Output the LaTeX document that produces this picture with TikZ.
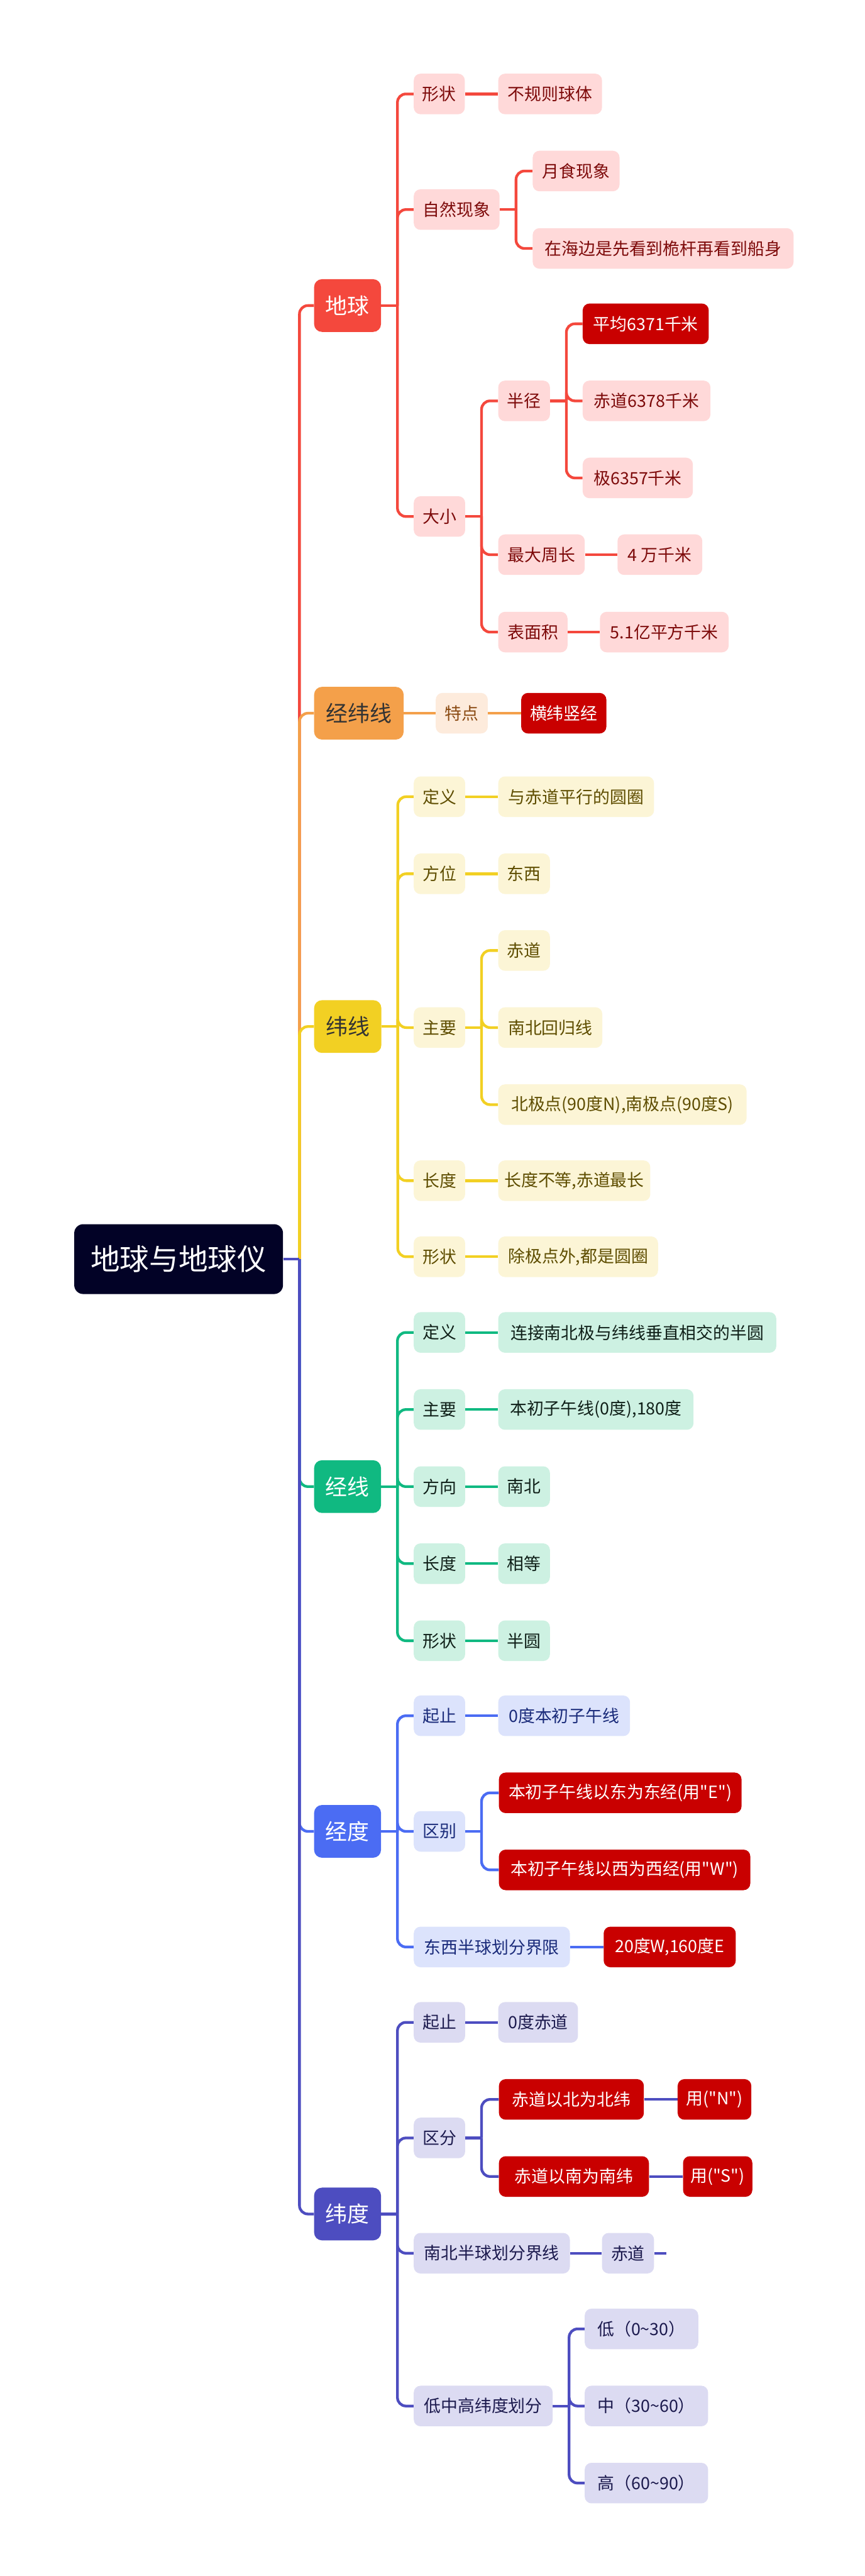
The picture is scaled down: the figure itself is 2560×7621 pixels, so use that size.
\documentclass[tikz,border=0pt]{standalone}
\usepackage{fontspec}
\setmainfont{Noto Sans CJK SC}[Ligatures=TeXOff]
\usetikzlibrary{calc}
\definecolor{rootc}{HTML}{020226}
\definecolor{hlred}{HTML}{C90000}
\definecolor{rmain}{HTML}{F4483D}
\definecolor{rfill}{HTML}{FFD9D9}
\definecolor{rtext}{HTML}{7D0A0A}
\definecolor{omain}{HTML}{F4A04A}
\definecolor{ofill}{HTML}{FDEBDC}
\definecolor{otext}{HTML}{8A4A12}
\definecolor{ymain}{HTML}{F2D023}
\definecolor{yfill}{HTML}{FCF5D6}
\definecolor{ytext}{HTML}{5E4D00}
\definecolor{gmain}{HTML}{10B981}
\definecolor{gfill}{HTML}{CDF1E2}
\definecolor{gtext}{HTML}{0F1F18}
\definecolor{bmain}{HTML}{4B6CF3}
\definecolor{bfill}{HTML}{DCE3FC}
\definecolor{btext}{HTML}{1A2B7A}
\definecolor{imain}{HTML}{4D4DC0}
\definecolor{ifill}{HTML}{DCDBF2}
\definecolor{itext}{HTML}{1C1A4E}
\pgfdeclarelayer{bg}
\pgfsetlayers{bg,main}
\newcommand\bx[6]{%
  \pgfmathsetmacro\bxw{(#4-#3)*0.3}%
  \node[#1, minimum width=\bxw pt, anchor=west] (#2) at (#3,#5) {#6};}
\newcommand\cn[3]{%
  \draw[#1] (#2.east) -- ++(48,0) coordinate (tmpj);
  \draw[#1, rounded corners=7.5pt] (tmpj) |- (#3.west);}
\newcommand\sline[3]{\draw[#1] (#2.east) -- (#3.west);}
\begin{document}
\begin{tikzpicture}[x=0.3pt,y=-0.3pt,
  lv/.style={rounded corners=6pt, minimum height=36pt, inner xsep=1pt, inner ysep=0pt, font=\fontsize{15}{18}\selectfont},
  mn/.style={rounded corners=7pt, minimum height=46.8pt, inner xsep=1pt, inner ysep=0pt, font=\fontsize{19.5}{23}\selectfont},
  rootbox/.style={rounded corners=8pt, minimum height=62pt, inner xsep=1pt, inner ysep=0pt, fill=rootc, text=white, font=\fontsize{26}{30}\selectfont},
  hl/.style={lv, fill=hlred, text=white},
  rl/.style={lv, fill=rfill, text=rtext},
  ol/.style={lv, fill=ofill, text=otext},
  yl/.style={lv, fill=yfill, text=ytext},
  gl/.style={lv, fill=gfill, text=gtext},
  bl/.style={lv, fill=bfill, text=btext},
  il/.style={lv, fill=ifill, text=itext},
  rline/.style={draw=rmain, line width=2.4pt},
  oline/.style={draw=omain, line width=2.4pt},
  yline/.style={draw=ymain, line width=2.4pt},
  gline/.style={draw=gmain, line width=2.4pt},
  bline/.style={draw=bmain, line width=2.4pt},
  iline/.style={draw=imain, line width=2.4pt}]
\useasboundingbox (0,0) rectangle (2560,7621);
% root and main
\bx{rootbox}{root}{219}{837}{3725}{地球与地球仪}
\bx{mn, fill=rmain, text=white}{m1}{929}{1127}{904}{地球}
\bx{mn, fill=omain, text=black!80}{m2}{929}{1194}{2110}{经纬线}
\bx{mn, fill=ymain, text=black!80}{m3}{929}{1128}{3037}{纬线}
\bx{mn, fill=gmain, text=white}{m4}{929}{1127}{4398}{经线}
\bx{mn, fill=bmain, text=white}{m5}{929}{1127}{5418}{经度}
\bx{mn, fill=imain, text=white}{m6}{929}{1127}{6550}{纬度}
% red
\bx{rl}{a1}{1224}{1375}{278}{形状}
\bx{rl}{a1a}{1474}{1781}{278}{不规则球体}
\bx{rl}{a2}{1224}{1478}{620}{自然现象}
\bx{rl}{a2a}{1576}{1833}{506}{月食现象}
\bx{rl}{a2b}{1576}{2348}{735}{在海边是先看到桅杆再看到船身}
\bx{rl}{a3}{1224}{1376}{1528}{大小}
\bx{rl}{a31}{1474}{1627}{1186}{半径}
\bx{hl}{a31a}{1724}{2097}{958}{平均6371千米}
\bx{rl}{a31b}{1724}{2102}{1186}{赤道6378千米}
\bx{rl}{a31c}{1724}{2050}{1414}{极6357千米}
\bx{rl}{a32}{1474}{1730}{1641}{最大周长}
\bx{rl}{a32a}{1827}{2078}{1641}{4 万千米}
\bx{rl}{a33}{1474}{1679}{1870}{表面积}
\bx{rl}{a33a}{1775}{2156}{1870}{5.1亿平方千米}
% orange
\bx{ol}{b1}{1289}{1443}{2110}{特点}
\bx{hl}{b1a}{1542}{1794}{2110}{横纬竖经}
% yellow
\bx{yl}{c1}{1224}{1376}{2357}{定义}
\bx{yl}{c1a}{1474}{1935}{2357}{与赤道平行的圆圈}
\bx{yl}{c2}{1224}{1376}{2585}{方位}
\bx{yl}{c2a}{1474}{1627}{2585}{东西}
\bx{yl}{c3}{1224}{1376}{3040}{主要}
\bx{yl}{c3a}{1474}{1627}{2812}{赤道}
\bx{yl}{c3b}{1474}{1782}{3040}{南北回归线}
\bx{yl}{c3c}{1474}{2209}{3268}{北极点(90度N),南极点(90度S)}
\bx{yl}{c4}{1224}{1376}{3493}{长度}
\bx{yl}{c4a}{1474}{1924}{3493}{长度不等,赤道最长}
\bx{yl}{c5}{1224}{1376}{3718}{形状}
\bx{yl}{c5a}{1474}{1947}{3718}{除极点外,都是圆圈}
% green
\bx{gl}{d1}{1224}{1376}{3942}{定义}
\bx{gl}{d1a}{1474}{2297}{3942}{连接南北极与纬线垂直相交的半圆}
\bx{gl}{d2}{1224}{1376}{4170}{主要}
\bx{gl}{d2a}{1474}{2052}{4170}{本初子午线(0度),180度}
\bx{gl}{d3}{1224}{1376}{4398}{方向}
\bx{gl}{d3a}{1474}{1627}{4398}{南北}
\bx{gl}{d4}{1224}{1376}{4626}{长度}
\bx{gl}{d4a}{1474}{1627}{4626}{相等}
\bx{gl}{d5}{1224}{1376}{4854}{形状}
\bx{gl}{d5a}{1474}{1627}{4854}{半圆}
% blue
\bx{bl}{e1}{1224}{1376}{5076}{起止}
\bx{bl}{e1a}{1474}{1864}{5076}{0度本初子午线}
\bx{bl}{e2}{1224}{1376}{5418}{区别}
\bx{hl}{e2a}{1476}{2194}{5304}{本初子午线以东为东经(用"E")}
\bx{hl}{e2b}{1476}{2220}{5532}{本初子午线以西为西经(用"W")}
\bx{bl}{e3}{1224}{1686}{5760}{东西半球划分界限}
\bx{hl}{e3a}{1786}{2177}{5760}{20度W,160度E}
% indigo
\bx{il}{f1}{1224}{1376}{5983}{起止}
\bx{il}{f1a}{1474}{1710}{5983}{0度赤道}
\bx{il}{f2}{1224}{1376}{6325}{区分}
\bx{hl}{f2a}{1476}{1905}{6211}{赤道以北为北纬}
\bx{hl}{f2aa}{2005}{2223}{6211}{用("N")}
\bx{hl}{f2b}{1476}{1920}{6439}{赤道以南为南纬}
\bx{hl}{f2bb}{2021}{2226}{6439}{用("S")}
\bx{il}{f3}{1224}{1686}{6666}{南北半球划分界线}
\bx{il}{f3a}{1781}{1935}{6666}{赤道}
\bx{il}{f4}{1224}{1635}{7118}{低中高纬度划分}
\bx{il}{f4a}{1730}{2066}{6890}{低（0\textasciitilde30）}
\bx{il}{f4b}{1730}{2095}{7118}{中（30\textasciitilde60）}
\bx{il}{f4c}{1730}{2095}{7346}{高（60\textasciitilde90）}
\begin{pgfonlayer}{bg}
\fill[white] (0,0) rectangle (2560,7621);
% trunk
\cn{rline}{root}{m1}
\cn{oline}{root}{m2}
\cn{yline}{root}{m3}
\cn{gline}{root}{m4}
\cn{bline}{root}{m5}
\cn{iline}{root}{m6}
% red
\cn{rline}{m1}{a1}
\cn{rline}{m1}{a2}
\cn{rline}{m1}{a3}
\sline{rline}{a1}{a1a}
\cn{rline}{a2}{a2a}
\cn{rline}{a2}{a2b}
\cn{rline}{a3}{a31}
\cn{rline}{a3}{a32}
\cn{rline}{a3}{a33}
\cn{rline}{a31}{a31a}
\cn{rline}{a31}{a31b}
\cn{rline}{a31}{a31c}
\sline{rline}{a32}{a32a}
\sline{rline}{a33}{a33a}
% orange
\sline{oline}{m2}{b1}
\sline{oline}{b1}{b1a}
% yellow
\cn{yline}{m3}{c1}
\cn{yline}{m3}{c2}
\cn{yline}{m3}{c3}
\cn{yline}{m3}{c4}
\cn{yline}{m3}{c5}
\sline{yline}{c1}{c1a}
\sline{yline}{c2}{c2a}
\cn{yline}{c3}{c3a}
\cn{yline}{c3}{c3b}
\cn{yline}{c3}{c3c}
\sline{yline}{c4}{c4a}
\sline{yline}{c5}{c5a}
% green
\cn{gline}{m4}{d1}
\cn{gline}{m4}{d2}
\cn{gline}{m4}{d3}
\cn{gline}{m4}{d4}
\cn{gline}{m4}{d5}
\sline{gline}{d1}{d1a}
\sline{gline}{d2}{d2a}
\sline{gline}{d3}{d3a}
\sline{gline}{d4}{d4a}
\sline{gline}{d5}{d5a}
% blue
\cn{bline}{m5}{e1}
\cn{bline}{m5}{e2}
\cn{bline}{m5}{e3}
\sline{bline}{e1}{e1a}
\cn{bline}{e2}{e2a}
\cn{bline}{e2}{e2b}
\sline{bline}{e3}{e3a}
% indigo
\cn{iline}{m6}{f1}
\cn{iline}{m6}{f2}
\cn{iline}{m6}{f3}
\cn{iline}{m6}{f4}
\sline{iline}{f1}{f1a}
\cn{iline}{f2}{f2a}
\cn{iline}{f2}{f2b}
\sline{iline}{f2a}{f2aa}
\sline{iline}{f2b}{f2bb}
\sline{iline}{f3}{f3a}
\draw[iline] (f3a.east) -- ++(35,0) coordinate (f3end);
\cn{iline}{f4}{f4a}
\cn{iline}{f4}{f4b}
\cn{iline}{f4}{f4c}
\end{pgfonlayer}
\end{tikzpicture}
\end{document}
